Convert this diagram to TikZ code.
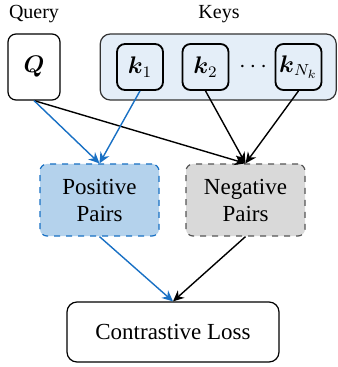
\documentclass[tikz,border=0pt]{standalone}
\usepackage{amsmath}
\usepackage{fontspec}
\setmainfont{Liberation Serif}
\usepackage{tikz}
\usetikzlibrary{arrows.meta, positioning}
\definecolor{posblue}{RGB}{24,112,196}
\definecolor{posfill}{RGB}{180,210,236}
\definecolor{keyfill}{RGB}{228,238,248}
\definecolor{neggray}{RGB}{85,85,85}
\definecolor{negfill}{RGB}{217,217,217}

\begin{document}
\begin{tikzpicture}[x=0.5pt,y=-0.5pt,font=\fontsize{11.5}{13.5}\selectfont,
    box/.style={rectangle,rounded corners=4pt,draw=black,line width=0.6pt,align=center},
    keybox/.style={rectangle,rounded corners=4pt,draw=black,line width=0.9pt,fill=keyfill,minimum width=23pt,minimum height=23pt,inner sep=0pt},
    pairbox/.style={rectangle,rounded corners=3.5pt,dashed,line width=0.6pt,minimum width=59.5pt,minimum height=36pt,align=center},
    posarrow/.style={-{Stealth[length=5.5pt,width=5pt]},draw=posblue,line width=0.7pt},
    negarrow/.style={-{Stealth[length=5.5pt,width=5pt]},draw=black,line width=0.7pt}]
    \useasboundingbox (0,0) rectangle (337,367);

    % Titoli
    \node[font=\fontsize{10}{12}\selectfont] (qtitle) at (34,14) {Query};
    \node[font=\fontsize{10}{12}\selectfont] (ktitle) at (219,14) {Keys};

    % Query
    \node[box,fill=white,minimum width=26pt,minimum height=33pt,font=\fontsize{12.5}{14}\selectfont] (query) at (34,67) {$\boldsymbol{Q}$};

    % Keys
    \node[box,rounded corners=5pt,draw=black!80,fill=keyfill,minimum width=118pt,minimum height=33pt] (keys) at (218.25,67) {};
    \node[keybox] (k1) at (140,67) {$\boldsymbol{k}_1$};
    \node[keybox] (k2) at (205.5,67) {$\boldsymbol{k}_2$};
    \node[keybox] (kn) at (298.5,67) {$\boldsymbol{k}_{N_k}$};
    \node[font=\fontsize{13}{14}\selectfont,inner sep=0pt] (dots) at (255,67) {$\cdots$};

    % Coppie
    \node[pairbox,draw=posblue,fill=posfill] (pos) at (99.5,200) {Positive\\Pairs};
    \node[pairbox,draw=neggray,fill=negfill] (neg) at (245.5,200) {Negative\\Pairs};

    % Loss
    \node[box,rounded corners=5pt,minimum width=106pt,minimum height=30pt] (loss) at (173,332) {Contrastive Loss};

    % Frecce
    \draw[negarrow] (query.south) -- (neg.north);
    \draw[negarrow] (k2.south) -- (neg.north);
    \draw[negarrow] (kn.south) -- (neg.north);
    \draw[posarrow] (query.south) -- (pos.north);
    \draw[posarrow] (k1.south) -- (pos.north);
    \draw[posarrow] (pos.south) -- (loss.north);
    \draw[negarrow] (neg.south) -- (loss.north);
\end{tikzpicture}
\end{document}
